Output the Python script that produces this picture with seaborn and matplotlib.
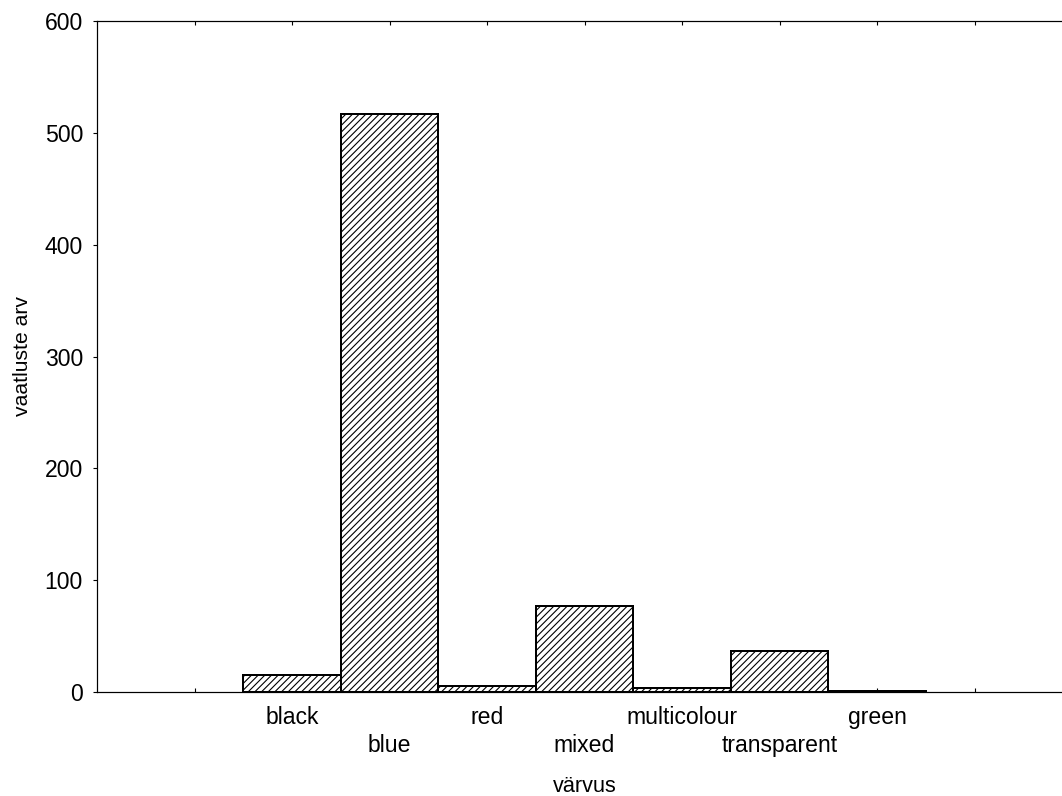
import matplotlib
matplotlib.use("Agg")
import matplotlib.pyplot as plt
import seaborn as sns
import pandas as pd
from matplotlib.ticker import FixedLocator, FixedFormatter

categories = ["black", "blue", "red", "mixed", "multicolour", "transparent", "green"]
counts = [15, 517, 5, 77, 4, 37, 1]
y_ticks = [0, 100, 200, 300, 400, 500, 600]
x_label = "värvus"
y_label = "vaatluste arv"

sns.set_theme(style="white")
plt.rcParams["font.family"] = ["Liberation Sans", "DejaVu Sans"]
plt.rcParams["hatch.linewidth"] = 1.0
plt.rcParams["text.color"] = "black"
plt.rcParams["axes.labelcolor"] = "black"
plt.rcParams["xtick.color"] = "black"
plt.rcParams["ytick.color"] = "black"

DPI = 80
W, H = 1062, 796
fig = plt.figure(figsize=(W / DPI, H / DPI), dpi=DPI)
ax = fig.add_axes([97 / W, 104 / H, 975 / W, 671 / H])

df = pd.DataFrame({"cat": categories, "n": counts})
sns.barplot(data=df, x="cat", y="n", ax=ax, width=1.0, color="white",
            saturation=1, edgecolor="black", linewidth=1.8, hatch="////")

ax.set_axisbelow(True)
ax.set_xlim(-2, 8)
ax.set_ylim(0, 600)
ax.set_yticks(y_ticks)
ax.set_yticklabels([str(v) for v in y_ticks], fontsize=20.7, color="black")

n = len(categories)
major_pos = [-1] + [i for i in range(n) if i % 2 == 0] + [n]
major_lab = [""] + [categories[i] for i in range(n) if i % 2 == 0] + [""]
minor_pos = [i for i in range(n) if i % 2 == 1]
minor_lab = [categories[i] for i in minor_pos]

ax.xaxis.set_major_locator(FixedLocator(major_pos))
ax.xaxis.set_major_formatter(FixedFormatter(major_lab))
ax.xaxis.set_minor_locator(FixedLocator(minor_pos))
ax.xaxis.set_minor_formatter(FixedFormatter(minor_lab))

ax.tick_params(axis="x", which="both", direction="in", top=True, bottom=True,
               length=3.6, width=1.0, color="black", labelcolor="black",
               labelsize=20.7)
ax.tick_params(axis="x", which="major", pad=13)
ax.tick_params(axis="x", which="minor", pad=38)
ax.tick_params(axis="y", direction="out", left=True, length=3.6, width=1.0,
               color="black", labelcolor="black", pad=9)

for s in ax.spines.values():
    s.set_visible(True)
    s.set_color("black")
    s.set_linewidth(1.1)

ax.set_xlabel(x_label, fontsize=19.5, color="black")
ax.set_ylabel(y_label, fontsize=19, color="black")
ax.xaxis.set_label_coords(0.5, -0.125)
ax.yaxis.set_label_coords(-0.067, 0.5)

fig.savefig("out.png", dpi=DPI, facecolor="white")
